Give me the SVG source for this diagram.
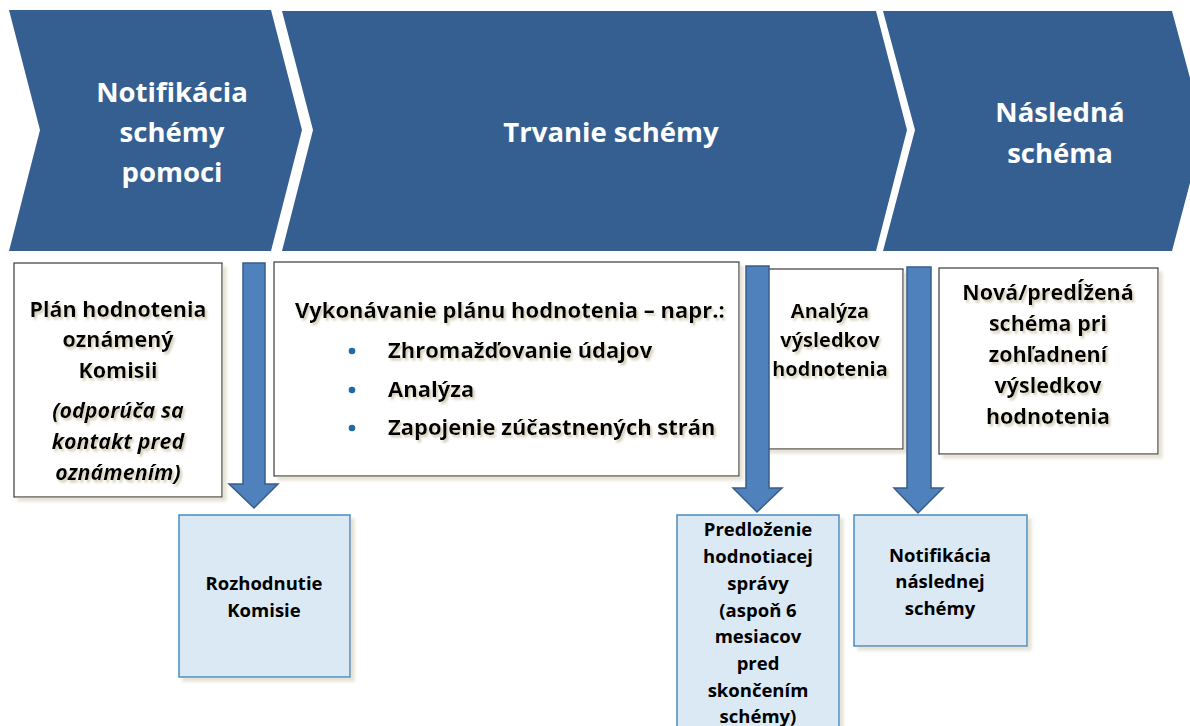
<svg xmlns="http://www.w3.org/2000/svg" width="1190" height="726" viewBox="0 0 1190 726">
<defs>
<filter id="ts" x="-10%" y="-30%" width="130%" height="180%">
<feDropShadow dx="2" dy="2.5" stdDeviation="0.8" flood-color="#d4cfb8" flood-opacity="1"/>
</filter>
<filter id="bs" x="-5%" y="-5%" width="115%" height="115%">
<feDropShadow dx="4" dy="4" stdDeviation="1.5" flood-color="#e6e3d6" flood-opacity="1"/>
</filter>
</defs>
<style>
.chev{fill:#365f91;}
.ct{font-family:"Open Sans","Liberation Sans",sans-serif;font-weight:bold;font-size:27.5px;fill:#ffffff;text-anchor:middle;}
.wbox{fill:#ffffff;stroke:#3a3a3a;stroke-width:1.2;}
.bbox{fill:#dbe9f5;stroke:#4a8cc0;stroke-width:1.5;}
.t{font-family:"Open Sans","Liberation Sans",sans-serif;font-weight:bold;font-size:21.5px;fill:#000000;text-anchor:middle;}
.tv{font-size:22px;}
.ta{font-size:20px;}
.ti{font-style:italic;}
.tl{text-anchor:start;}
.s{font-family:"Open Sans","Liberation Sans",sans-serif;font-weight:bold;font-size:18.5px;fill:#000000;text-anchor:middle;}
.arr{fill:#4f81bd;stroke:#385d8a;stroke-width:1.5;}
.bul{fill:#1f6aa5;}
</style>

<g id="chevron-notifikacia">
<path class="chev" d="M9,10 L271,10 L302,130 L271,251 L9,251 L40,130 Z"/>
<text class="ct" x="172" y="102">Notifikácia</text>
<text class="ct" x="172" y="142">schémy</text>
<text class="ct" x="172" y="182">pomoci</text>
</g>

<g id="chevron-trvanie">
<path class="chev" d="M282,11 L876,11 L907,130 L876,251 L282,251 L313,130 Z"/>
<text class="ct" x="611" y="142">Trvanie schémy</text>
</g>

<g id="chevron-nasledna">
<path class="chev" d="M883,11 L1172,11 L1204,130 L1172,251 L883,251 L915,130 Z"/>
<text class="ct" x="1060" y="122">Následná</text>
<text class="ct" x="1060" y="163">schéma</text>
</g>

<g id="box-plan">
<rect class="wbox" x="14" y="263" width="208" height="234" filter="url(#bs)"/>
<g filter="url(#ts)">
<text class="t" x="118" y="317">Plán hodnotenia</text>
<text class="t" x="118" y="347">oznámený</text>
<text class="t" x="118" y="378">Komisii</text>
<text class="t ti" x="118" y="418">(odporúča sa</text>
<text class="t ti" x="118" y="449">kontakt pred</text>
<text class="t ti" x="118" y="480">oznámením)</text>
</g>
</g>

<g id="box-vykonavanie">
<rect class="wbox" x="274" y="262" width="465" height="214" filter="url(#bs)"/>
<g filter="url(#ts)">
<text class="t tv tl" x="295" y="318">Vykonávanie plánu hodnotenia – napr.:</text>
<text class="t tv tl" x="388" y="358">Zhromažďovanie údajov</text>
<text class="t tv tl" x="388" y="397">Analýza</text>
<text class="t tv tl" x="388" y="435">Zapojenie zúčastnených strán</text>
</g>
<circle class="bul" cx="352" cy="351" r="3.3"/>
<circle class="bul" cx="352" cy="390" r="3.3"/>
<circle class="bul" cx="352" cy="428" r="3.3"/>
</g>

<g id="box-analyza">
<rect class="wbox" x="760" y="269" width="143" height="180" filter="url(#bs)"/>
<g filter="url(#ts)">
<text class="t ta" x="830" y="318">Analýza</text>
<text class="t ta" x="830" y="347">výsledkov</text>
<text class="t ta" x="830" y="376">hodnotenia</text>
</g>
</g>

<g id="box-nova">
<rect class="wbox" x="939" y="268" width="219" height="186" filter="url(#bs)"/>
<g filter="url(#ts)">
<text class="t" x="1048" y="300">Nová/predĺžená</text>
<text class="t" x="1048" y="331">schéma pri</text>
<text class="t" x="1048" y="362">zohľadnení</text>
<text class="t" x="1048" y="393">výsledkov</text>
<text class="t" x="1048" y="424">hodnotenia</text>
</g>
</g>

<g id="box-rozhodnutie">
<rect class="bbox" x="179" y="515" width="171" height="162" filter="url(#bs)"/>
<text class="s" x="264" y="590">Rozhodnutie</text>
<text class="s" x="264" y="617">Komisie</text>
</g>

<g id="box-predlozenie">
<rect class="bbox" x="677" y="515" width="162" height="230" filter="url(#bs)"/>
<text class="s" x="758" y="536">Predloženie</text>
<text class="s" x="758" y="563">hodnotiacej</text>
<text class="s" x="758" y="590">správy</text>
<text class="s" x="758" y="617">(aspoň 6</text>
<text class="s" x="758" y="643">mesiacov</text>
<text class="s" x="758" y="670">pred</text>
<text class="s" x="758" y="697">skončením</text>
<text class="s" x="758" y="723">schémy)</text>
</g>

<g id="box-notifikacia-nasledna">
<rect class="bbox" x="854" y="515" width="173" height="131" filter="url(#bs)"/>
<text class="s" x="940" y="562">Notifikácia</text>
<text class="s" x="940" y="588">následnej</text>
<text class="s" x="940" y="615">schémy</text>
</g>

<g id="connectors">
<path class="arr" d="M243,263 L265,263 L265,484 L278,484 L254,508 L229,484 L243,484 Z"/>
<path class="arr" d="M746,266 L769,266 L769,488 L782,488 L757,512 L733,488 L746,488 Z"/>
<path class="arr" d="M907,267 L931,267 L931,488 L943,488 L918,513 L894,488 L907,488 Z"/>
</g>
</svg>
